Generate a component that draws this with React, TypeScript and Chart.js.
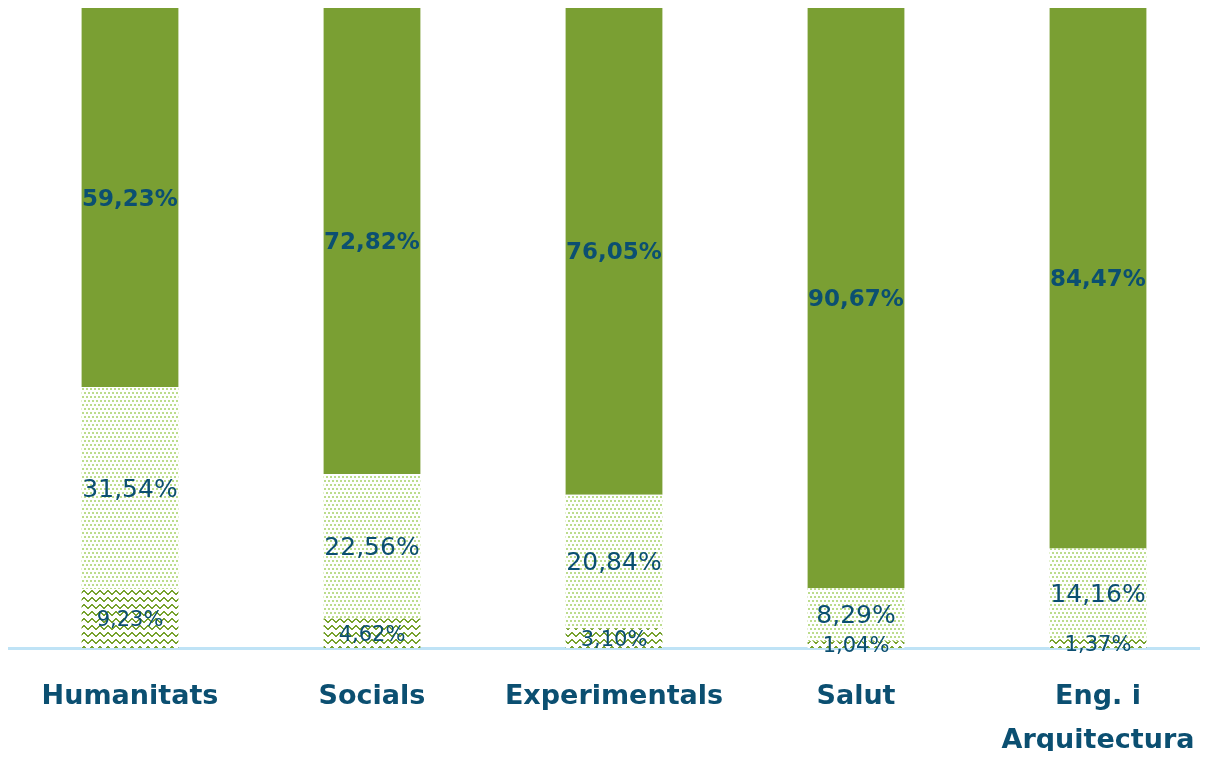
import React, { useEffect, useRef } from 'react';
import { Chart, registerables } from 'chart.js';

Chart.register(...registerables);

const categories: (string | string[])[] = ['Humanitats', 'Socials', 'Experimentals', 'Salut', ['Eng. i', 'Arquitectura']];
const bottomValues = [9.23, 4.62, 3.1, 1.04, 1.37];
const middleValues = [31.54, 22.56, 20.84, 8.29, 14.16];
const topValues = [59.23, 72.82, 76.05, 90.67, 84.47];

const TEXT = '#0b4f71';
const GREEN = '#7a9f33';

const fmt = (v: number) => v.toFixed(2).replace('.', ',') + '%';

function makeDots(): CanvasPattern | string {
  const c = document.createElement('canvas');
  c.width = 4;
  c.height = 8;
  const g = c.getContext('2d');
  if (!g) return '#d5e8b8';
  g.fillStyle = '#ffffff';
  g.fillRect(0, 0, 4, 8);
  g.fillStyle = '#bcdc8c';
  g.fillRect(0, 0, 2, 2);
  g.fillRect(2, 4, 2, 2);
  return g.createPattern(c, 'repeat') || '#d5e8b8';
}

function makeZigzag(): CanvasPattern | string {
  const c = document.createElement('canvas');
  c.width = 8;
  c.height = 7;
  const g = c.getContext('2d');
  if (!g) return '#8fb050';
  g.fillStyle = '#ffffff';
  g.fillRect(0, 0, 8, 7);
  g.fillStyle = '#77a22d';
  const pts = [
    [0, 4], [1, 3], [2, 2], [3, 1], [4, 1], [5, 2], [6, 3], [7, 4],
  ];
  pts.forEach(([x, y]) => g.fillRect(x, y, 1, 2));
  return g.createPattern(c, 'repeat') || '#8fb050';
}

const labelFonts = [
  { font: '21px "DejaVu Sans"', dy: 2 },
  { font: '25px "DejaVu Sans"', dy: 2 },
  { font: 'bold 23px "DejaVu Sans"', dy: 2 },
];

const labelPlugin = {
  id: 'segLabels',
  afterDatasetsDraw(chart: any) {
    const ctx = chart.ctx;
    chart.data.datasets.forEach((ds: any, di: number) => {
      const meta = chart.getDatasetMeta(di);
      const st = labelFonts[di];
      meta.data.forEach((bar: any, i: number) => {
        const p = bar.getProps(['x', 'y', 'base'], true);
        ctx.save();
        ctx.font = st.font;
        ctx.fillStyle = TEXT;
        ctx.textAlign = 'center';
        ctx.textBaseline = 'middle';
        ctx.fillText(fmt(ds.data[i]), p.x, (p.y + p.base) / 2 + st.dy);
        ctx.restore();
      });
    });
  },
};

export default function App() {
  const ref = useRef<HTMLCanvasElement | null>(null);

  useEffect(() => {
    if (!ref.current) return;
    const chart = new Chart(ref.current, {
      type: 'bar',
      data: {
        labels: categories as any,
        datasets: [
          { label: 'bottom', data: bottomValues, backgroundColor: makeZigzag() as any, borderWidth: 0 },
          { label: 'middle', data: middleValues, backgroundColor: makeDots() as any, borderWidth: 0 },
          { label: 'top', data: topValues, backgroundColor: GREEN, borderWidth: 0 },
        ],
      },
      options: {
        responsive: false,
        animation: false,
        devicePixelRatio: 1,
        layout: { padding: { left: 1, right: 0, top: 0, bottom: 0 } },
        plugins: { legend: { display: false }, tooltip: { enabled: false } },
        datasets: { bar: { barPercentage: 0.4, categoryPercentage: 1 } },
        scales: {
          x: {
            stacked: true,
            grid: { display: false, drawTicks: false },
            border: { display: true, color: '#bfe3f6', width: 3 },
            ticks: {
              color: TEXT,
              padding: 27,
              maxRotation: 0,
              autoSkip: false,
              font: { family: 'DejaVu Sans', size: 27, weight: 'bold', lineHeight: 1.64 },
            },
            afterFit: (scale: any) => {
              scale.height = 111;
              scale.paddingLeft = 0;
              scale.paddingRight = 0;
            },
          },
          y: {
            stacked: true,
            display: false,
            min: 0,
            max: 100,
          },
        },
      },
      plugins: [labelPlugin],
    });
    return () => chart.destroy();
  }, []);

  return (
    <div style={{ width: 1200, height: 751, overflow: 'hidden', marginBottom: -8 }}>
      <canvas ref={ref} width={1211} height={751} style={{ display: 'block' }} />
    </div>
  );
}
